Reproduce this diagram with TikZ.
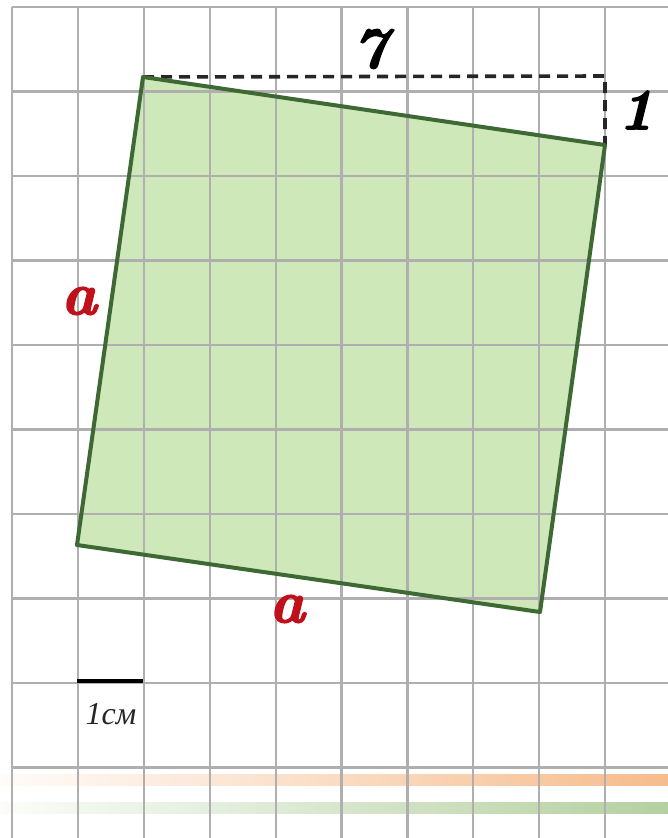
\documentclass[tikz,border=0pt]{standalone}
\usepackage{fontspec}
\newfontfamily\cyrserif{Liberation Serif}
\newfontface\heavyit{lmroman10-bolditalic.otf}[FakeBold=2.5]
\definecolor{gridc}{RGB}{175,175,175}
\definecolor{sqfill}{RGB}{207,232,185}
\definecolor{sqline}{RGB}{62,105,52}
\definecolor{labred}{RGB}{192,16,26}
\definecolor{stripeo}{RGB}{246,188,140}
\definecolor{stripeg}{RGB}{180,208,160}
\tikzset{
  gridline/.style={draw=gridc, line width=2.2pt},
  sqedge/.style={draw=sqline, line width=4pt, line join=round},
  guide/.style={draw=black!85, line width=3.6pt, dash pattern=on 11pt off 7pt},
  numlab/.style={inner sep=0pt, font=\heavyit\fontsize{58}{58}\selectfont},
  sidelab/.style={inner sep=0pt, text=labred, font=\heavyit\fontsize{60}{60}\selectfont},
  unitlab/.style={inner sep=0pt, text=black!85, font=\cyrserif\fontsize{32}{32}\selectfont\itshape}
}
\begin{document}
\begin{tikzpicture}[x=1pt,y=-1pt]
\useasboundingbox (0,0) rectangle (668,838);
\fill[white] (0,0) rectangle (668,838);
% faded stripes at the bottom
\shade[left color=stripeo!5, right color=stripeo] (0,774) rectangle (668,785);
\shade[left color=stripeg!5, right color=stripeg] (0,802) rectangle (668,813);
% square vertices
\coordinate (A) at (143,77);
\coordinate (B) at (605,145);
\coordinate (C) at (540,612);
\coordinate (D) at (77,545);
\coordinate (K) at (605,76);
% fill
\fill[sqfill] (A) -- (B) -- (C) -- (D) -- cycle;
% grid
\foreach \k in {0,...,9} {
  \draw[gridline] ({12+65.9*\k},7) -- ({12+65.9*\k},838);
  \draw[gridline] (12,{7+84.5*\k}) -- (668,{7+84.5*\k});
}
% dashed guide
\draw[guide] (A) -- (K) -- (B);
% square outline
\draw[sqedge] (A) -- (B) -- (C) -- (D) -- cycle;
% labels
\node[numlab] (seven) at (370,49) {7};
\node[numlab] (one) at (636,110) {1};
\node[sidelab] (aleft) at (79,301) {a};
\node[sidelab] (abottom) at (287,609) {a};
% scale bar
\coordinate (S1) at (77,681);
\coordinate (S2) at (143,681);
\draw[black, line width=4pt] (S1) -- (S2);
\node[unitlab] (unit) at (111,714) {1см};
\end{tikzpicture}
\end{document}
